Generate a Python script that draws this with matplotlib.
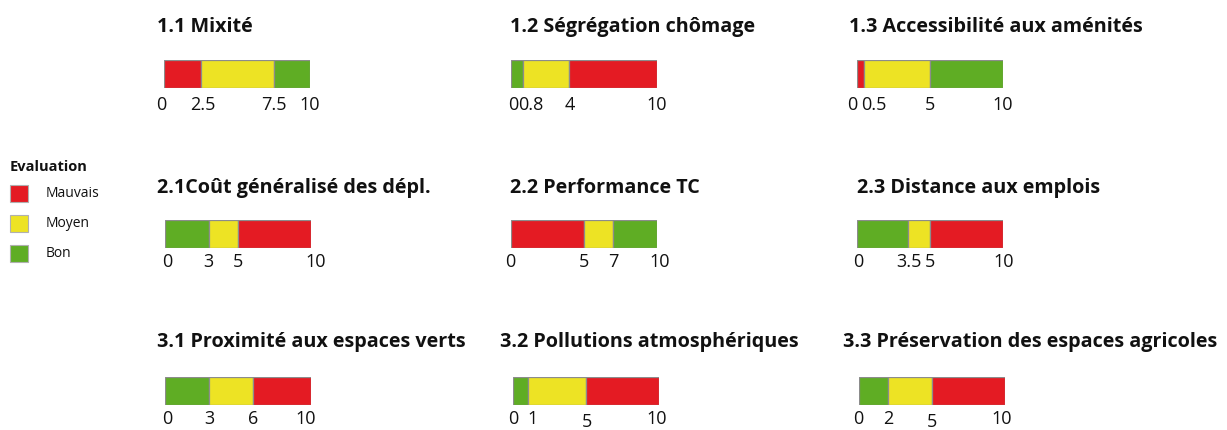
import matplotlib

matplotlib.use("Agg")
import matplotlib.pyplot as plt  # noqa: E402
from matplotlib.patches import Rectangle  # noqa: E402

RED = "#E41B23"
YELLOW = "#EDE324"
GREEN = "#5FAD24"
EDGE = "#8C8C8C"

titles = [
    "1.1 Mixité", "1.2 Ségrégation chômage", "1.3 Accessibilité aux aménités",
    "2.1Coût généralisé des dépl.", "2.2 Performance TC", "2.3 Distance aux emplois",
    "3.1 Proximité aux espaces verts", "3.2 Pollutions atmosphériques",
    "3.3 Préservation des espaces agricoles",
]
breaks = [
    [0, 2.5, 7.5, 10], [0, 0.8, 4, 10], [0, 0.5, 5, 10],
    [0, 3, 5, 10], [0, 5, 7, 10], [0, 3.5, 5, 10],
    [0, 3, 6, 10], [0, 1, 5, 10], [0, 2, 5, 10],
]
tick_text = [
    ["0", "2.5", "7.5", "10"], ["0", "0.8", "4", "10"], ["0", "0.5", "5", "10"],
    ["0", "3", "5", "10"], ["0", "5", "7", "10"], ["0", "3.5", "5", "10"],
    ["0", "3", "6", "10"], ["0", "1", "5", "10"], ["0", "2", "5", "10"],
]
seg_colors = [
    [RED, YELLOW, GREEN], [GREEN, YELLOW, RED], [RED, YELLOW, GREEN],
    [GREEN, YELLOW, RED], [RED, YELLOW, GREEN], [GREEN, YELLOW, RED],
    [GREEN, YELLOW, RED], [GREEN, YELLOW, RED], [GREEN, YELLOW, RED],
]
legend_labels = ["Mauvais", "Moyen", "Bon"]
legend_colors = [RED, YELLOW, GREEN]

W, H = 1227, 430
# pixel layout
bar_x = [164, 511, 857, 165, 511, 857, 165, 513, 859]
bar_y = [60, 60, 60, 220, 220, 220, 377, 377, 377]
title_x = [157, 510, 849, 157, 510, 857, 157, 500, 843]
title_base = [32, 32, 32, 193, 193, 193, 347, 347, 347]
label_gap = [22, 22, 22, 19, 19, 19, 19, 19, 19]
# hand nudges of tick labels (dx, dy in px), as in the original layout
nudge = [
    [(-3, 0), (2, 0), (0, 0), (0, 0)],
    [(2, 0), (8, 0), (0, 0), (0, 0)],
    [(-5, 0), (10, 0), (0, 0), (0, 0)],
    [(2, 0), (0, 0), (0, 0), (5, 0)],
    [(-1, 0), (0, 0), (0, 0), (3, 0)],
    [(1, 0), (1, 0), (0, 0), (1, 0)],
    [(2, 0), (1, 0), (1, 0), (-5, 0)],
    [(0, 0), (5, 0), (1, 3), (-2, 0)],
    [(-1, 0), (0, 0), (0, 3), (-3, 0)],
]
BAR_W, BAR_H = 146, 28

plt.rcParams["font.family"] = ["Open Sans", "DejaVu Sans"]
fig = plt.figure(figsize=(W / 100, H / 100), dpi=100)

for i in range(9):
    ax = fig.add_axes([bar_x[i] / W, 1 - (bar_y[i] + BAR_H) / H, BAR_W / W, BAR_H / H])
    b = breaks[i]
    for k, c in enumerate(seg_colors[i]):
        ax.barh(0, b[k + 1] - b[k], left=b[k], height=1, color=c,
                edgecolor=EDGE, linewidth=0.9)
    ax.set_xlim(0, 10)
    ax.set_ylim(-0.5, 0.5)
    ax.axis("off")
    base = 1 - (bar_y[i] + BAR_H + label_gap[i]) / H
    for v, s, (dx, dy) in zip(b, tick_text[i], nudge[i]):
        xf = (bar_x[i] + BAR_W * v / 10 + dx) / W
        fig.text(xf, base - dy / H, s, ha="center", va="baseline",
                 fontsize=13, color="#111111")
    fig.text(title_x[i] / W, 1 - title_base[i] / H, titles[i], ha="left",
             va="baseline", fontsize=14.2, fontweight="bold", color="#111111")

fig.text(10 / W, 1 - 160 / H, "Evaluation", ha="left", va="top",
         fontsize=10.5, fontweight="bold", color="#111111")
for k, (lab, c) in enumerate(zip(legend_labels, legend_colors)):
    top = 185 + k * 30
    fig.patches.append(Rectangle((10 / W, 1 - (top + 17) / H), 18 / W, 17 / H,
                                 transform=fig.transFigure, facecolor=c,
                                 edgecolor="#B0B0B0", linewidth=0.8))
    fig.text(46 / W, 1 - (top + 8.5) / H, lab, ha="left", va="center",
             fontsize=10, color="#111111")

fig.savefig("out.png", dpi=100)
